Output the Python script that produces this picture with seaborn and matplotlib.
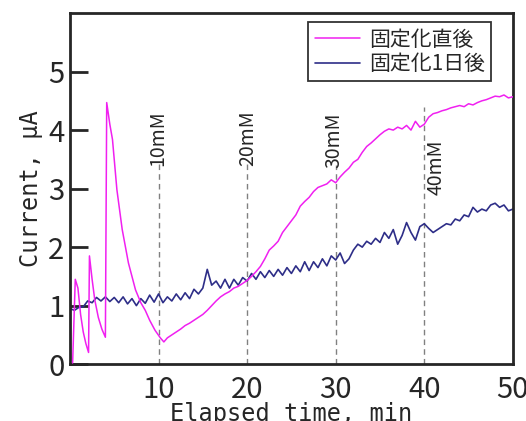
import numpy as np
import matplotlib
matplotlib.use("Agg")
import matplotlib.pyplot as plt
import seaborn as sns

# 固定化直後 (magenta) - time, current
t_fresh = [0.3, 0.6, 0.9, 1.2, 1.5, 1.8, 2.1, 2.2, 2.5, 2.8, 3.2, 3.6, 4.0, 4.15,
           4.5, 4.8, 5.3, 5.9, 6.6, 7.4, 8.0, 8.5, 9.0, 9.6, 10.2, 10.6,
           11.0, 11.5, 12.0, 12.5, 13.0, 13.5, 14.0, 14.5, 15.0, 15.5, 16.0, 16.5,
           17.0, 17.5, 18.0, 18.5, 19.0, 19.5, 20.0, 20.5, 21.0, 21.5, 22.0, 22.5,
           23.0, 23.5, 24.0, 24.5, 25.0, 25.5, 26.0, 26.5, 27.0, 27.5, 28.0, 28.5,
           29.0, 29.5, 30.0, 30.5, 31.0, 31.5, 32.0, 32.5, 33.0, 33.5, 34.0, 34.5,
           35.0, 35.5, 36.0, 36.5, 37.0, 37.5, 38.0, 38.5, 39.0, 39.5, 40.0, 40.5,
           41.0, 41.5, 42.0, 42.5, 43.0, 43.5, 44.0, 44.5, 45.0, 45.5, 46.0, 46.5,
           47.0, 47.5, 48.0, 48.5, 49.0, 49.5, 50.0]
i_fresh = [0.02, 1.45, 1.3, 0.85, 0.55, 0.35, 0.2, 1.85, 1.45, 1.1, 0.8, 0.6, 0.46, 4.47,
           4.1, 3.84, 2.98, 2.3, 1.73, 1.27, 1.05, 0.92, 0.75, 0.58, 0.45, 0.38,
           0.45, 0.5, 0.55, 0.6, 0.66, 0.7, 0.75, 0.8, 0.85, 0.92, 1.0, 1.08,
           1.15, 1.2, 1.24, 1.3, 1.33, 1.38, 1.43, 1.5, 1.58, 1.67, 1.8, 1.95,
           2.02, 2.1, 2.25, 2.35, 2.45, 2.55, 2.7, 2.78, 2.85, 2.95, 3.02, 3.05,
           3.08, 3.15, 3.1, 3.2, 3.28, 3.35, 3.45, 3.5, 3.62, 3.72, 3.78, 3.85,
           3.92, 3.98, 4.02, 4.0, 4.05, 4.02, 4.08, 4.0, 4.15, 4.05, 4.1, 4.22,
           4.28, 4.3, 4.33, 4.35, 4.38, 4.4, 4.42, 4.4, 4.45, 4.43, 4.47, 4.5,
           4.52, 4.55, 4.58, 4.57, 4.6, 4.55, 4.57]

# 固定化1日後 (navy) - every 0.5 min
t_day1 = np.arange(0, 50.01, 0.5)
i_day1 = [0.95, 0.92, 0.97, 0.98, 1.08, 1.05, 1.14, 1.08, 1.15, 1.07,
          1.14, 1.05, 1.15, 1.03, 1.12, 1.0, 1.12, 1.04, 1.18, 1.06,
          1.2, 1.05, 1.15, 1.08, 1.2, 1.1, 1.22, 1.12, 1.28, 1.2,
          1.3, 1.62, 1.35, 1.42, 1.3, 1.45, 1.3, 1.45, 1.35, 1.48,
          1.42, 1.55, 1.45, 1.58, 1.48, 1.6, 1.5, 1.62, 1.52, 1.65,
          1.55, 1.68, 1.58, 1.75, 1.6, 1.75, 1.65, 1.8, 1.68, 1.85,
          1.78, 1.9, 1.72, 1.8, 1.95, 2.05, 2.0, 2.1, 2.05, 2.15,
          2.08, 2.25, 2.15, 2.3, 2.05, 2.2, 2.42, 2.25, 2.12, 2.35,
          2.4, 2.32, 2.25, 2.3, 2.35, 2.4, 2.38, 2.48, 2.45, 2.55,
          2.52, 2.68, 2.6, 2.65, 2.62, 2.72, 2.75, 2.68, 2.72, 2.62,
          2.65]

# concentration markers
conc_labels = ["10mM", "20mM", "30mM", "40mM"]
conc_times = [10, 20, 30, 40]
conc_line_top = [3.46, 3.44, 3.4, 4.4]
conc_text_pos = [(9.9, 3.86), (20.05, 3.86), (29.8, 3.82), (41.3, 3.37)]

sns.set_style("ticks")
plt.rcParams['font.family'] = ['Liberation Sans Narrow', 'Noto Sans CJK JP', 'DejaVu Sans']

fig = plt.figure(figsize=(5.26, 4.21), dpi=100)
ax = fig.add_axes([0.133, 0.135, 0.842, 0.834])

for t, top in zip(conc_times, conc_line_top):
    ax.plot([t, t], [0, top], color="#808080", lw=1, dashes=(4, 3), zorder=1)
for lab, (x, y) in zip(conc_labels, conc_text_pos):
    ax.text(x, y, lab, rotation=90, ha="center", va="center", fontsize=14)

sns.lineplot(x=t_fresh, y=i_fresh, ax=ax, color="#f020f0", lw=1.1,
             label="固定化直後", sort=False, zorder=3)
sns.lineplot(x=t_day1, y=i_day1, ax=ax, color="#2e2e88", lw=1.2,
             label="固定化1日後", zorder=2)

ax.set_xlim(0, 50)
ax.set_ylim(0, 6)
ax.set_xticks([10, 20, 30, 40, 50])
ax.set_yticks([0, 1, 2, 3, 4, 5])
ax.tick_params(axis="x", length=0, labelsize=21, pad=8)
ax.tick_params(axis="y", direction="in", length=13, width=2, labelsize=21, pad=4)
for s in ax.spines.values():
    s.set_linewidth(2)
    s.set_visible(True)

ax.set_xlabel("Elapsed time, min", family="DejaVu Sans Mono", fontsize=17, labelpad=-2)
ax.set_ylabel("Current, μA", family="DejaVu Sans Mono", fontsize=17, labelpad=4)

leg = ax.legend(loc="upper right", bbox_to_anchor=(0.96, 0.985), fontsize=15,
                frameon=True, fancybox=False, handlelength=2.2, borderpad=0.3,
                labelspacing=0.1, handletextpad=0.4, borderaxespad=0.2)
leg.get_frame().set_edgecolor("black")
leg.get_frame().set_linewidth(1.3)
for txt in leg.get_texts():
    txt.set_family(["Noto Sans CJK JP"])

fig.savefig("out.png", dpi=100, facecolor="white")
